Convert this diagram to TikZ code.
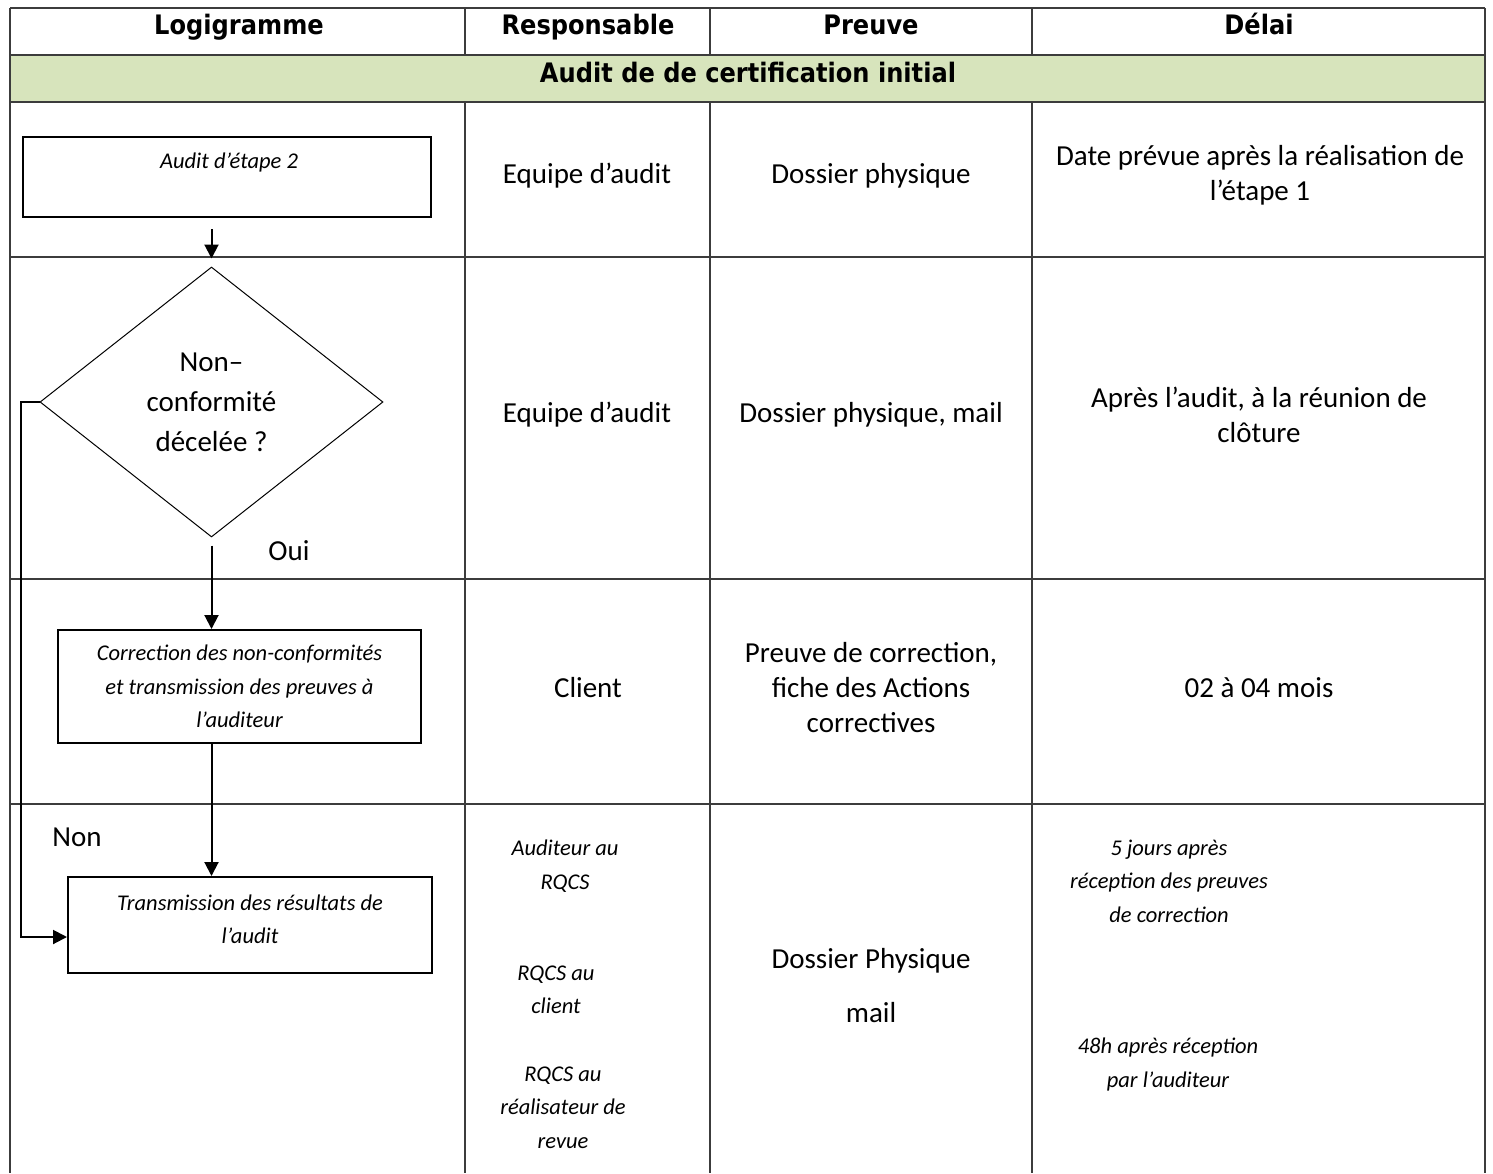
\documentclass[tikz,border=0pt]{standalone}
\usepackage{fontspec}
\setmainfont{Carlito}
\newfontfamily\hdrfont[FakeStretch=0.9]{DejaVu Sans}
\usetikzlibrary{shapes.geometric,arrows.meta}
\definecolor{gridc}{RGB}{60,60,60}
\definecolor{greenrow}{RGB}{215,228,188}
\begin{document}
\begin{tikzpicture}[x=0.5pt,y=-0.5pt,
  gridline/.style={draw=gridc, line width=1pt},
  body/.style={font=\fontsize{14.5}{17.5}\selectfont, align=center, inner sep=0pt},
  itl/.style={font=\fontsize{11.25}{16.75}\selectfont\itshape, align=center, inner sep=0pt},
  hdr/.style={font=\hdrfont\bfseries\fontsize{13.4}{16}\selectfont, inner sep=0pt, anchor=base},
  flowbox/.style={draw=black, line width=1pt, rectangle, inner sep=0pt},
  arr/.style={-{Triangle[length=7pt,width=7pt]}, line width=1pt, draw=black}]
\useasboundingbox (0,0) rectangle (1493,1173);
% green band
\fill[greenrow] (10,55) rectangle (1485,102);
% table grid
\draw[gridline] (10,8) -- (1485,8);
\draw[gridline] (10,55) -- (1485,55);
\draw[gridline] (10,102) -- (1485,102);
\draw[gridline] (10,257) -- (1485,257);
\draw[gridline] (10,579) -- (1485,579);
\draw[gridline] (10,804) -- (1485,804);
\draw[gridline] (10,8) -- (10,1173);
\draw[gridline] (1485,8) -- (1485,1173);
\foreach \xx in {465,710,1032}{
  \draw[gridline] (\xx,8) -- (\xx,55);
  \draw[gridline] (\xx,102) -- (\xx,1173);
}
% header texts
\node[hdr] (h1) at (239,34) {Logigramme};
\node[hdr] (h2) at (588,34) {Responsable};
\node[hdr] (h3) at (871,34) {Preuve};
\node[hdr] (h4) at (1259,34) {Délai};
\node[hdr] (hg) at (748,82) {Audit de de certification initial};
% flowchart
\node[flowbox, minimum width=204pt, minimum height=40pt] (box1) at (227,177) {};
\node[itl] (t1) at (229,162) {Audit d’étape 2};
\node[draw=black, line width=0.5pt, diamond, aspect=1.27, minimum width=171.5pt, minimum height=135pt, inner sep=0pt, align=center, font=\fontsize{14.5}{20}\selectfont] (dia) at (211.5,402) {Non–\\conformité\\décelée ?};
\node[flowbox, itl, minimum width=181.5pt, minimum height=56.5pt] (box2) at (239.5,686.5) {Correction des non-conformités\\et transmission des preuves à\\l’auditeur};
\node[flowbox, itl, minimum width=182pt, minimum height=48pt, text depth=6pt] (box3) at (250,925) {Transmission des résultats de\\l’audit};
\node[body] (oui) at (289,551) {Oui};
\node[body] (non) at (77,837) {Non};
\coordinate (loop) at (21,409);
\draw[arr, shorten <=5.5pt, shorten >=4pt] (box1.south -| dia.north) -- (dia.north);
\draw[arr, shorten <=4pt] (dia.south) -- (dia.south |- box2.north);
\draw[arr] (dia.south |- box2.south) -- (dia.south |- box3.north);
\draw[arr] (dia.west) -- (dia.west -| loop) -- (loop |- 0,937) -- ([yshift=-6pt]box3.west);
% row 1
\node[body] (r1a) at (587,176) {Equipe d’audit};
\node[body] (r1b) at (871,176) {Dossier physique};
\node[body] (r1c) at (1260,175.5) {Date prévue après la réalisation de\\l’étape 1};
% row 2
\node[body] (r2a) at (587,415) {Equipe d’audit};
\node[body] (r2b) at (871,415) {Dossier physique, mail};
\node[body] (r2c) at (1259,414.5) {Après l’audit, à la réunion de\\clôture};
% row 3
\node[body] (r3a) at (588,688) {Client};
\node[body] (r3b) at (871,688) {Preuve de correction,\\fiche des Actions\\correctives};
\node[body] (r3c) at (1259,688) {02 à 04 mois};
% row 4
\node[itl] (r4a1) at (565,866) {Auditeur au\\RQCS};
\node[itl] (r4a2) at (556,990) {RQCS au\\client};
\node[itl] (r4a3) at (563,1107.5) {RQCS au\\réalisateur de\\revue};
\node[body] (r4b1) at (871,961) {Dossier Physique};
\node[body] (r4b2) at (871,1013) {mail};
\node[itl] (r4c1) at (1169,881) {5 jours après\\réception des preuves\\de correction};
\node[itl] (r4c2) at (1168,1064.5) {48h après réception\\par l’auditeur};
\end{tikzpicture}
\end{document}
